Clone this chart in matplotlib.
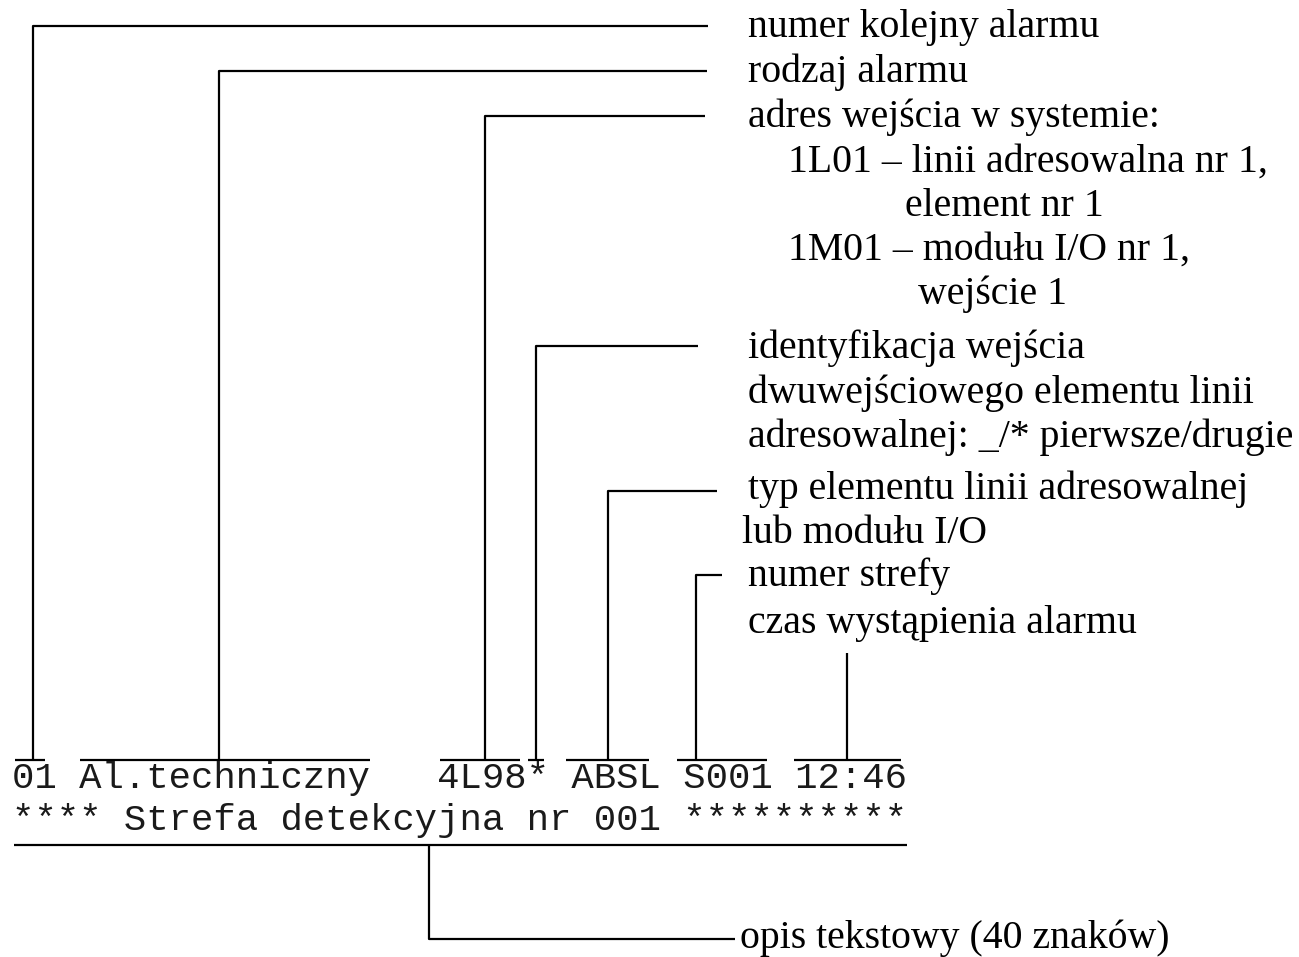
import matplotlib
matplotlib.use("Agg")
import matplotlib.pyplot as plt

# display lines (40 chars each)
display_lines = [
    "01 Al.techniczny   4L98* ABSL S001 12:46",
    "**** Strefa detekcyjna nr 001 **********",
]

# descriptions on the right: (text, x, baseline y)
descriptions = [
    "numer kolejny alarmu",
    "rodzaj alarmu",
    "adres wejścia w systemie:",
    "1L01 – linii adresowalna nr 1,",
    "element nr 1",
    "1M01 – modułu I/O nr 1,",
    "wejście 1",
    "identyfikacja wejścia",
    "dwuwejściowego elementu linii",
    "adresowalnej: _/* pierwsze/drugie",
    "typ elementu linii adresowalnej",
    "lub modułu I/O",
    "numer strefy",
    "czas wystąpienia alarmu",
    "opis tekstowy (40 znaków)",
]
desc_x = [748, 748, 748, 788, 905, 788, 918, 748, 748, 748, 748, 742, 748, 748, 740]
desc_y = [37, 82, 127, 172, 216, 260, 304, 358, 403, 447, 499, 543, 586, 633, 948]

# leaders: field underline (x0, x1), drop x, elbow y, end x of the horizontal
field_span = [(15, 45), (80, 370), (440, 520), (528, 544), (566, 649), (677, 767), (794, 901)]
drop_x = [33, 219, 485, 536, 608, 696, 847]
elbow_y = [26, 71, 116, 346, 491, 575, 653]
elbow_end = [708, 707, 705, 698, 717, 722, None]

field_y = 760
mono_y = [788, 830]

fig = plt.figure(figsize=(12.99, 9.57), dpi=100)
ax = fig.add_axes([0, 0, 1, 1])
ax.set_xlim(0, 1299)
ax.set_ylim(957, 0)
ax.axis("off")

lw = 1.6
kw = dict(color="black", lw=lw, solid_capstyle="butt")

for (x0, x1), dx, ey, ex in zip(field_span, drop_x, elbow_y, elbow_end):
    ax.plot([x0, x1], [field_y, field_y], **kw)
    if ex is None:
        ax.plot([dx, dx], [ey, field_y], **kw)
    else:
        ax.plot([ex, dx, dx], [ey, ey, field_y], **kw)

# text description underline and its leader
ax.plot([14, 907], [845, 845], **kw)
ax.plot([429, 429, 735], [845, 939, 939], **kw)

for s, y in zip(display_lines, mono_y):
    ax.text(12, y, s, family="Liberation Mono", fontsize=26.8, va="baseline", ha="left", color="#1a1a1a")

for s, x, y in zip(descriptions, desc_x, desc_y):
    ax.text(x, y, s, family="Liberation Serif", fontsize=28.6, va="baseline", ha="left")

fig.savefig("out.png", dpi=100)
